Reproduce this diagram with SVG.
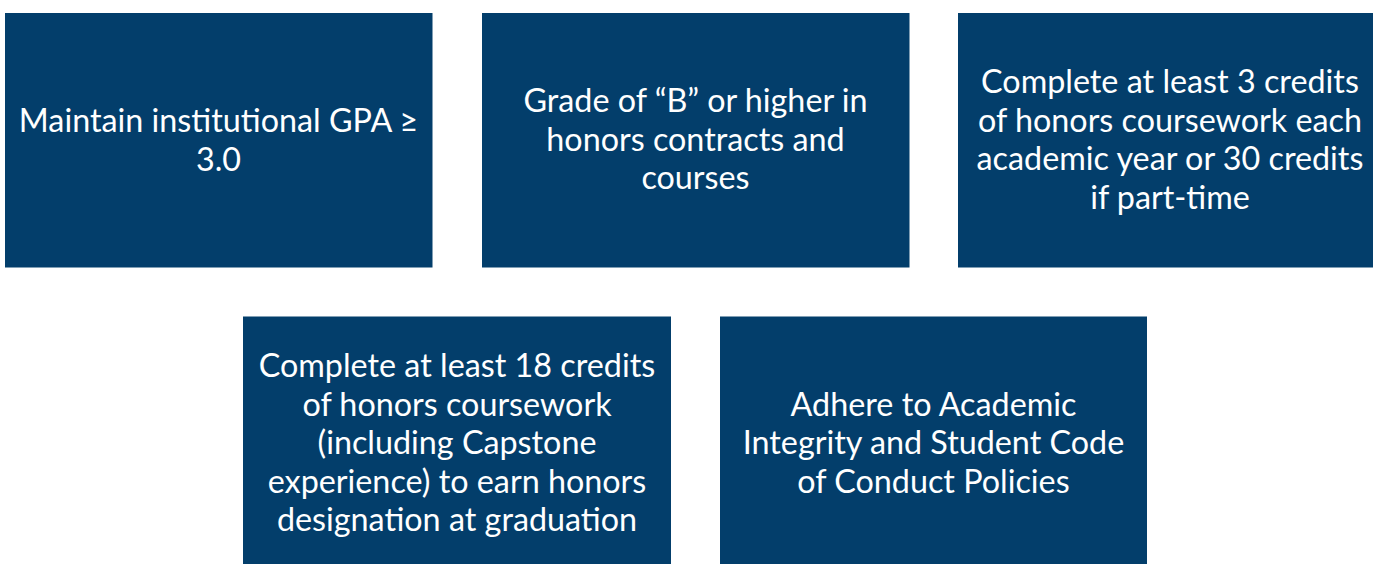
<svg xmlns="http://www.w3.org/2000/svg" width="1373" height="564" viewBox="0 0 1373 564">
<style>
.box{fill:#033e6b}
.t{font-family:Lato,"Open Sans",sans-serif;font-size:32.3px;fill:#ffffff;text-anchor:middle}
</style>
<rect width="1373" height="564" fill="#ffffff"/>
<g id="connectors"/>
<g id="n1"><rect class="box" x="5" y="13" width="427.5" height="254.5"/>
<text class="t"><tspan x="218.5" y="132">Maintain institutional GPA ≥</tspan><tspan x="218.5" y="171">3.0</tspan></text></g>
<g id="n2"><rect class="box" x="482" y="13" width="427.5" height="254.5"/>
<text class="t"><tspan x="695.5" y="112">Grade of “B” or higher in</tspan><tspan x="695.5" y="150.5">honors contracts and</tspan><tspan x="695.5" y="189">courses</tspan></text></g>
<g id="n3"><rect class="box" x="958" y="13" width="415" height="254.5"/>
<text class="t"><tspan x="1170" y="93">Complete at least 3 credits</tspan><tspan x="1170" y="131.5">of honors coursework each</tspan><tspan x="1170" y="170">academic year or 30 credits</tspan><tspan x="1170" y="208.5">if part-time</tspan></text></g>
<g id="n4"><rect class="box" x="243" y="316.5" width="428" height="247.5"/>
<text class="t"><tspan x="457" y="377">Complete at least 18 credits</tspan><tspan x="457" y="415.5">of honors coursework</tspan><tspan x="457" y="454">(including Capstone</tspan><tspan x="457" y="492.5">experience) to earn honors</tspan><tspan x="457" y="531">designation at graduation</tspan></text></g>
<g id="n5"><rect class="box" x="720" y="316.5" width="427" height="247.5"/>
<text class="t"><tspan x="933.5" y="415.5">Adhere to Academic</tspan><tspan x="933.5" y="454">Integrity and Student Code</tspan><tspan x="933.5" y="492.5">of Conduct Policies</tspan></text></g>
</svg>
